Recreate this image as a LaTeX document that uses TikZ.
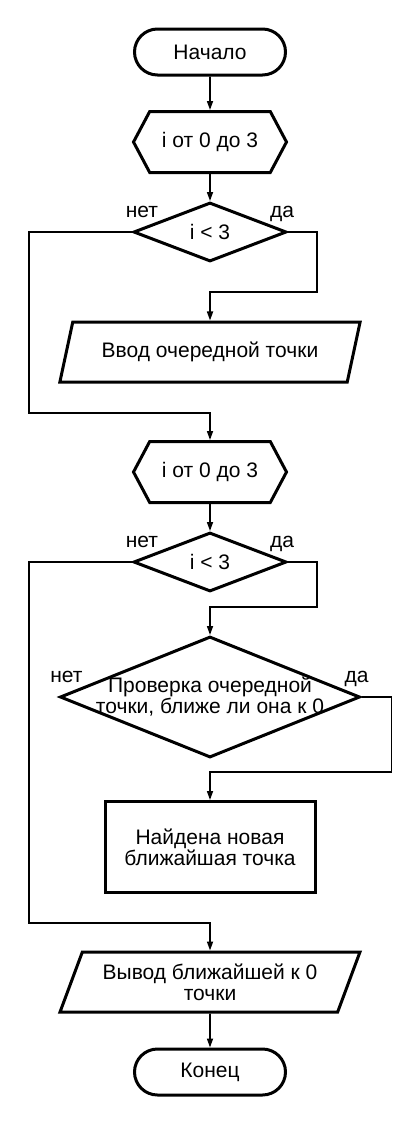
\documentclass[tikz,border=0pt]{standalone}
\usepackage{fontspec}
\setmainfont{Liberation Sans}
\usetikzlibrary{shapes.geometric,shapes.symbols,arrows.meta}

\begin{document}
\begin{tikzpicture}[x=1pt,y=1pt,>={Stealth[length=9pt,width=6pt,inset=0pt]},
    font=\fontsize{21}{21}\selectfont,
    every node/.style={line width=3pt,inner sep=0pt},
    term/.style={draw,rectangle,rounded corners=23pt,minimum width=151pt,minimum height=46pt},
    loopbox/.style={draw,signal,signal to=east and west,signal pointer angle=124,minimum width=153pt,minimum height=61pt},
    io/.style={draw,trapezium,trapezium left angle=63,trapezium right angle=117,trapezium stretches=true,minimum width=301pt,minimum height=60pt,align=center},
    cond/.style={draw,diamond,minimum width=153pt,minimum height=59pt},
    proc/.style={draw,rectangle,minimum width=210pt,minimum height=91pt,align=center},
    lbl/.style={anchor=base,line width=0pt},
    line/.style={line width=1.6pt}]
  \useasboundingbox (0,0) rectangle (420,-1125);

  \node[term] (start) at (210,-52) {Начало};
  \node[loopbox,below of=start,node distance=90pt] (loop1) {i от 0 до 3};
  \node[cond,below of=loop1,node distance=90pt] (cond1) {i < 3};
  \node[io,below of=cond1,node distance=120pt] (in1) {Ввод очередной точки};
  \node[loopbox,below of=in1,node distance=120pt] (loop2) {i от 0 до 3};
  \node[cond,below of=loop2,node distance=90pt] (cond2) {i < 3};
  \node[cond,below of=cond2,node distance=135pt,minimum width=300pt,minimum height=121pt,
    label={[align=center,line width=0pt]center:Проверка очередной\\точки, ближе ли она к 0}] (cmp) {};
  \node[proc,below of=cmp,node distance=150pt] (found) {Найдена новая\\ближайшая точка};
  \node[io,below of=found,node distance=135pt] (out) {Вывод ближайшей к 0\\точки};
  \node[term,below of=out,node distance=90pt] (stop) {Конец};

  % yes / no labels
  \node[lbl] (no1) at ([shift={(10,15)}]cond1.west) {нет};
  \node[lbl] (yes1) at ([shift={(-6,15)}]cond1.east) {да};
  \node[lbl] (no2) at ([shift={(10,15)}]cond2.west) {нет};
  \node[lbl] (yes2) at ([shift={(-6,15)}]cond2.east) {да};
  \node[lbl] (no3) at ([shift={(8,15)}]cmp.west) {нет};
  \node[lbl] (yes3) at ([shift={(-5,15)}]cmp.east) {да};

  \draw[line,->] (start) -- (loop1);
  \draw[line,->] (loop1) -- (cond1);
  \draw[line,->] (cond1.east) -| ++(29,-60) -| (in1.north);
  \draw[line,->] (cond1.west) -| ++(-103,-181) -| (loop2.north);
  \draw[line,->] (loop2) -- (cond2);
  \draw[line,->] (cond2.east) -| ++(29,-45) -| (cmp.north);
  \draw[line,->] (cmp.east) -| ++(30,-75) -| (found.north);
  \draw[line,->] (cond2.west) -| ++(-103,-361) -| (out.north);
  \draw[line,->] (out) -- (stop);
\end{tikzpicture}
\end{document}
